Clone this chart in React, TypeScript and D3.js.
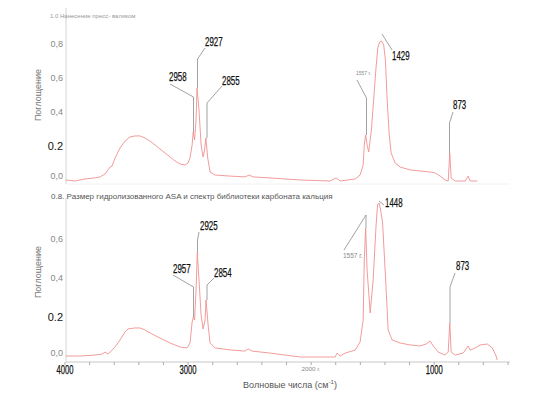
import React, { useEffect, useRef } from 'react';
import * as d3 from 'd3';

// wavenumber (cm-1) / absorbance
const topWn = [3992, 3919, 3837, 3756, 3715, 3675, 3634, 3618, 3593, 3553, 3512, 3472, 3431, 3390, 3350, 3309, 3268, 3228, 3187, 3146, 3106, 3065, 3024, 3000, 2984, 2967, 2958, 2947, 2935, 2927, 2911, 2894, 2878, 2866, 2855, 2840, 2821, 2780, 2659, 2537, 2504, 2472, 2333, 2089, 1846, 1797, 1764, 1642, 1602, 1577, 1568, 1557, 1545, 1532, 1510, 1492, 1474, 1458, 1442, 1429, 1410, 1396, 1382, 1366, 1350, 1317, 1276, 1195, 1114, 1033, 992, 951, 911, 886, 873, 862, 829, 748, 724, 707, 650];
const topAbs = [0.006, 0, 0.012, 0.018, 0.024, 0.041, 0.082, 0.088, 0.135, 0.194, 0.235, 0.259, 0.265, 0.265, 0.253, 0.235, 0.212, 0.188, 0.165, 0.141, 0.118, 0.1, 0.094, 0.106, 0.135, 0.212, 0.288, 0.241, 0.359, 0.547, 0.418, 0.212, 0.141, 0.182, 0.253, 0.135, 0.053, 0.035, 0.029, 0.024, 0.035, 0.024, 0.018, 0.006, 0, 0.018, 0, 0.012, 0.035, 0.094, 0.212, 0.271, 0.212, 0.171, 0.3, 0.476, 0.653, 0.782, 0.818, 0.824, 0.8, 0.712, 0.476, 0.282, 0.165, 0.106, 0.082, 0.065, 0.059, 0.053, 0.047, 0.029, 0.006, 0, 0.165, 0.018, 0, 0, 0.029, 0, 0];

const bottomWn = [3992, 3878, 3756, 3699, 3675, 3650, 3618, 3593, 3553, 3512, 3488, 3431, 3390, 3350, 3309, 3228, 3146, 3065, 3008, 2984, 2967, 2957, 2947, 2935, 2925, 2911, 2894, 2878, 2862, 2854, 2837, 2821, 2780, 2659, 2537, 2512, 2480, 2333, 2089, 1805, 1789, 1764, 1724, 1642, 1602, 1577, 1568, 1557, 1545, 1520, 1496, 1472, 1460, 1448, 1435, 1419, 1390, 1374, 1341, 1276, 1195, 1114, 1065, 1033, 1008, 967, 911, 886, 873, 862, 829, 764, 724, 707, 667, 626, 569, 528, 496, 488];
const bottomAbs = [0.01, 0.01, 0.015, 0.02, 0.03, 0.02, 0.04, 0.056, 0.091, 0.132, 0.147, 0.152, 0.152, 0.142, 0.127, 0.101, 0.076, 0.056, 0.051, 0.076, 0.182, 0.208, 0.192, 0.344, 0.532, 0.395, 0.218, 0.147, 0.192, 0.294, 0.167, 0.076, 0.051, 0.041, 0.035, 0.046, 0.035, 0.025, 0.005, 0.005, 0.025, 0.01, 0.025, 0.04, 0.081, 0.192, 0.496, 0.658, 0.446, 0.228, 0.395, 0.673, 0.775, 0.785, 0.749, 0.684, 0.344, 0.142, 0.091, 0.076, 0.066, 0.061, 0.071, 0.086, 0.061, 0.03, 0.015, 0.03, 0.177, 0.03, 0.015, 0.025, 0.061, 0.04, 0.051, 0.066, 0.071, 0.051, 0.01, -0.01];

const topPeaks = ['2958', '2927', '2855', '1557 г.', '1429', '873'];
const bottomPeaks = ['2957', '2925', '2854', '1557 г.', '1448', '873'];

const topTicks = [0, 0.2, 0.4, 0.6, 0.8];
const bottomTicks = [0, 0.2, 0.4, 0.6];
const xLabels = [4000, 3000, 2000, 1000];

const topTitle = '1.0 Нанесение пресс- валиком';
const bottomTitle = '0.8. Размер гидролизованного ASA и спектр библиотеки карбоната кальция';

const fmtY = (v: number) => (v === 0.2 ? '0.2' : d3.format('.1f')(v).replace('.', ','));

export default function App() {
  const ref = useRef<SVGSVGElement>(null);

  useEffect(() => {
    const svg = d3.select(ref.current);
    svg.selectAll('*').remove();
    const font = '"Liberation Sans", Arial, sans-serif';

    const x = d3.scaleLinear().domain([4000, 400]).range([65, 508]);
    const yTop = d3.scaleLinear().domain([0, 0.8]).range([181, 45]);
    const yBot = d3.scaleLinear().domain([0, 0.6]).range([358, 239.5]);

    // axes frames
    svg.append('line').attr('x1', 66).attr('x2', 66).attr('y1', 8).attr('y2', 184)
      .attr('stroke', '#d4d4d4');
    svg.append('line').attr('x1', 66).attr('x2', 510).attr('y1', 184).attr('y2', 184)
      .attr('stroke', '#f2f2f2');
    svg.append('line').attr('x1', 66).attr('x2', 66).attr('y1', 198).attr('y2', 362)
      .attr('stroke', '#d4d4d4');
    svg.append('line').attr('x1', 66).attr('x2', 510).attr('y1', 362).attr('y2', 362)
      .attr('stroke', '#c8c8c8');
    svg.append('g').selectAll('line').data(d3.range(4000, 399, -200)).join('line')
      .attr('x1', d => x(d)).attr('x2', d => x(d)).attr('y1', 362).attr('y2', 365)
      .attr('stroke', '#aaa');

    // y tick labels
    const yLabels = (scale: d3.ScaleLinear<number, number>, ticks: number[]) => {
      svg.append('g').selectAll('text').data(ticks).join('text')
        .attr('x', 63).attr('y', d => scale(d) - (d === 0 ? 4 : 0))
        .attr('text-anchor', 'end').attr('dominant-baseline', 'middle')
        .attr('font-family', font)
        .attr('font-size', d => (d === 0.2 ? 11 : 9))
        .attr('fill', d => (d === 0.2 ? '#111' : '#888'))
        .text(fmtY);
    };
    yLabels(yTop, topTicks);
    yLabels(yBot, bottomTicks);

    // x tick labels
    svg.append('g').selectAll('text').data(xLabels).join('text')
      .attr('x', d => x(d)).attr('y', d => (d === 2000 ? 371 : 374))
      .attr('text-anchor', 'middle').attr('font-family', font)
      .attr('font-size', d => (d === 2000 ? 6 : 12))
      .attr('fill', d => (d === 2000 ? '#888' : '#111'))
      .attr('stroke', d => (d === 2000 ? 'none' : '#111'))
      .attr('stroke-width', 0.25)
      .attr('textLength', d => (d === 2000 ? 19 : 17))
      .attr('lengthAdjust', 'spacingAndGlyphs')
      .text(d => (d === 2000 ? '2000 г.' : String(d)));

    // titles
    svg.append('text').attr('x', 50).attr('y', 18).attr('font-family', font)
      .attr('font-size', 6).attr('fill', '#999').text(topTitle);
    svg.append('text').attr('x', 51).attr('y', 199).attr('font-family', font)
      .attr('font-size', 8).attr('fill', '#555').text(bottomTitle);
    [95, 272].forEach(cy => {
      svg.append('text').attr('transform', `translate(41,${cy}) rotate(-90)`)
        .attr('text-anchor', 'middle').attr('font-family', font)
        .attr('font-size', 9).attr('fill', '#777').text('Поглощение');
    });
    const xt = svg.append('text').attr('x', 290).attr('y', 388).attr('text-anchor', 'middle')
      .attr('font-family', font).attr('font-size', 9).attr('fill', '#555');
    xt.append('tspan').text('Волновые числа (см');
    xt.append('tspan').attr('font-size', 6).attr('dy', -4).text('-1');
    xt.append('tspan').attr('dy', 4).text(')');

    // spectra
    const drawSpec = (wn: number[], ab: number[], y: d3.ScaleLinear<number, number>) => {
      const line = d3.line<number>().x(i => x(wn[i])).y(i => y(ab[i]));
      svg.append('path').attr('d', line(d3.range(wn.length)))
        .attr('fill', 'none').attr('stroke', '#f09090').attr('stroke-width', 0.9);
    };
    drawSpec(topWn, topAbs, yTop);
    drawSpec(bottomWn, bottomAbs, yBot);

    // peak labels with leader lines: [text x, baseline, points...]
    const topLayout: [number, number, number[][]][] = [
      [169, 81, [[170, 84], [193.5, 97], [193.5, 132]]],
      [205, 46, [[205, 48], [197.5, 59], [197.5, 88]]],
      [222, 85, [[222, 86], [207, 103], [207, 138]]],
      [356, 75, [[357, 80], [366.5, 98], [366.5, 135]]],
      [392, 60, [[392, 50], [382, 34]]],
      [453, 109, [[453, 112], [449.5, 123], [449.5, 153]]],
    ];
    const bottomLayout: [number, number, number[][]][] = [
      [173, 273, [[173, 275], [193.5, 287], [193.5, 317]]],
      [200, 230, [[199, 232], [197.5, 240], [197.5, 253]]],
      [214, 277, [[214, 278], [207, 285], [207, 300]]],
      [343, 258, [[344, 250], [366, 215], [366, 228]]],
      [385, 207, [[384, 205], [379, 201]]],
      [456, 270, [[455, 273], [450, 287], [450, 323]]],
    ];
    const drawPeaks = (labels: string[], layout: [number, number, number[][]][], smallSize: number) => {
      labels.forEach((lab, i) => {
        const [tx, ty, pts] = layout[i];
        svg.append('path').attr('d', d3.line()(pts as [number, number][]))
          .attr('fill', 'none').attr('stroke', '#8a8a8a').attr('stroke-width', 0.8);
        const small = lab.includes('г.');
        const t = svg.append('text').attr('x', tx).attr('y', ty).attr('font-family', font)
          .attr('font-size', small ? smallSize : 12).attr('fill', small ? '#888' : '#111')
          .text(lab);
        if (!small) {
          t.attr('textLength', lab.length * 4.4).attr('lengthAdjust', 'spacingAndGlyphs')
            .attr('stroke', '#111').attr('stroke-width', 0.25);
        }
      });
    };
    drawPeaks(topPeaks, topLayout, 5);
    drawPeaks(bottomPeaks, bottomLayout, 6.5);
  }, []);

  return (
    <svg ref={ref} width={553} height={394}
      style={{ position: 'absolute', left: 0, top: 0, background: '#fff' }} />
  );
}
